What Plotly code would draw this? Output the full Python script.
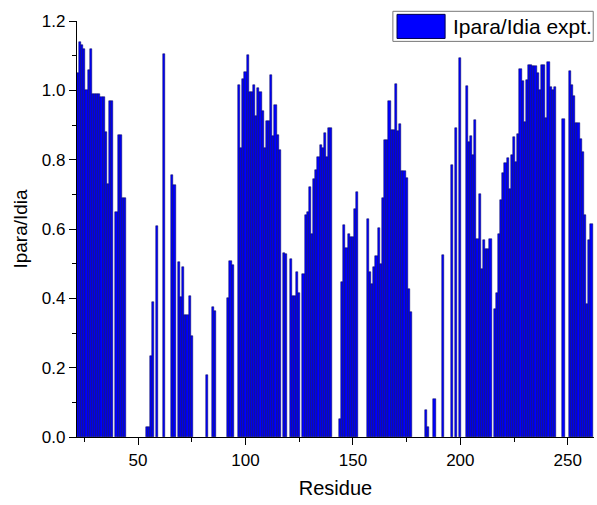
import plotly.graph_objects as go

residues = [22, 23, 24, 25, 26, 27, 28, 29, 30, 31, 32, 33, 34, 35, 36, 37, 38,
            40, 41, 42, 43, 44,
            54, 55, 56, 57, 59, 62, 66, 67, 69, 70, 71, 72, 73, 74, 75,
            82, 85, 86, 92, 93, 94,
            97, 98, 99, 100, 101, 102, 103, 104, 105, 106, 107, 108, 109, 110,
            111, 112, 113, 114, 115, 116, 118, 119, 121, 122, 123, 124, 125,
            127, 128, 129, 130, 131, 132, 133, 134, 135, 136, 137, 138, 139, 140,
            144, 145, 146, 147, 148, 149, 150, 151, 152,
            157, 158, 159, 160, 161, 162, 163, 164, 165, 166, 167, 168, 169, 170,
            171, 172, 173, 174, 175, 176, 177,
            184, 185, 188, 192, 196, 198, 200,
            203, 204, 205, 206, 207, 208, 209, 210, 211, 212, 213, 214,
            216, 217, 218, 219, 220, 221, 222, 223, 224, 225, 226, 227, 228, 229, 230,
            231, 232, 233, 234, 235, 236, 237, 238, 239, 240, 241, 242, 243, 244,
            248, 251, 252, 253, 254, 255, 256, 257, 258, 259, 260, 261]

ratios = [1.05, 1.14, 1.13, 1.12, 1.00, 1.06, 1.12, 0.99, 0.99, 0.99, 0.99, 0.98, 0.98, 0.88, 0.73, 0.97, 0.97,
          0.65, 0.87, 0.87, 0.69, 0.69,
          0.03, 0.03, 0.235, 0.39, 0.61, 1.105, 0.757, 0.726, 0.505, 0.404, 0.489, 0.351, 0.351, 0.406, 0.29,
          0.18, 0.375, 0.363, 0.40, 0.507, 0.497,
          1.016, 0.833, 1.032, 1.053, 1.101, 0.995, 0.995, 1.016, 0.925, 1.007, 0.995, 0.939, 0.833, 0.911,
          0.911, 1.045, 0.868, 0.959, 0.87, 0.829, 0.532, 0.527, 0.514, 0.406, 0.406, 0.476, 0.415,
          0.471, 0.641, 0.649, 0.72, 0.587, 0.743, 0.769, 0.808, 0.841, 0.834, 0.878, 0.808, 0.891, 0.891,
          0.053, 0.447, 0.612, 0.546, 0.587, 0.577, 0.577, 0.659, 0.707,
          0.628, 0.476, 0.442, 0.489, 0.522, 0.603, 0.50, 0.69, 0.858, 0.858, 0.968, 0.887, 0.887, 1.019,
          0.884, 0.903, 0.767, 0.767, 0.747, 0.426, 0.361,
          0.077, 0.029, 0.109, 0.526, 0.784, 0.891, 1.093,
          1.012, 0.851, 0.868, 0.814, 0.913, 0.572, 0.70, 0.484, 0.567, 0.543, 0.543, 0.57,
          0.37, 0.416, 0.587, 0.685, 0.762, 0.79, 0.806, 0.716, 0.814, 0.865, 0.793, 0.874, 1.062, 1.026, 0.908,
          1.029, 1.072, 1.072, 1.07, 1.07, 1.05, 1.0, 1.074, 1.074, 0.92, 1.081, 1.01, 1.0, 1.011,
          0.917, 1.057, 1.016, 0.985, 0.907, 0.907, 0.86, 0.822, 0.64, 0.385, 0.567, 0.613]

series_name = "Ipara/Idia expt."
x_title = "Residue"
y_title = "Ipara/Idia"
x_ticks = [50, 100, 150, 200, 250]
y_ticks = [0.0, 0.2, 0.4, 0.6, 0.8, 1.0, 1.2]

FONT = "Arial, Liberation Sans, sans-serif"
BAR_FILL = "#0000FF"
BAR_EDGE = "#000050"

fig = go.Figure()
fig.add_trace(go.Bar(
    x=residues, y=ratios, name=series_name, width=1.0,
    marker=dict(color=BAR_FILL, line=dict(color=BAR_EDGE, width=0.5)),
    showlegend=False,
))

fig.update_layout(
    width=597, height=505,
    margin=dict(l=77, r=3, t=21, b=68),
    paper_bgcolor="white", plot_bgcolor="white",
    bargap=0,
    font=dict(family=FONT, size=17, color="black"),
    xaxis=dict(
        range=[21.6, 262.2], tickvals=x_ticks, ticks="outside", ticklen=7, tickwidth=1.3,
        tickcolor="black", showline=True, linecolor="black", linewidth=1.3,
        showgrid=False, zeroline=False,
        minor=dict(tickvals=[25, 75, 125, 175, 225], ticks="outside", ticklen=4,
                   tickwidth=1.3, tickcolor="black", showgrid=False),
        title=dict(text=x_title, font=dict(size=20), standoff=12),
        tickfont=dict(size=17),
    ),
    yaxis=dict(
        range=[0, 1.2], tickvals=y_ticks, tickformat=".1f", ticks="outside", ticklen=7,
        tickwidth=1.3, tickcolor="black", showline=True, linecolor="black", linewidth=1.3,
        showgrid=False, zeroline=False,
        minor=dict(tickvals=[0.1, 0.3, 0.5, 0.7, 0.9, 1.1], ticks="outside", ticklen=4,
                   tickwidth=1.3, tickcolor="black", showgrid=False),
        title=dict(text=y_title, font=dict(size=19), standoff=9),
        tickfont=dict(size=17),
    ),
)

# legend box (drawn manually to reproduce the wide colour swatch)
fig.add_shape(type="rect", xref="paper", yref="paper", x0=0.611, x1=0.9985, y0=0.951, y1=1.0233,
              line=dict(color="#777777", width=1), fillcolor="white", layer="above")
fig.add_shape(type="rect", xref="paper", yref="paper", x0=0.619, x1=0.712, y0=0.958, y1=1.016,
              line=dict(color=BAR_EDGE, width=1), fillcolor=BAR_FILL, layer="above")
fig.add_annotation(xref="paper", yref="paper", x=0.7235, y=0.987, xanchor="left", yanchor="middle",
                   text=series_name, showarrow=False, font=dict(size=21, family=FONT, color="black"))

fig.write_html("out.html")
